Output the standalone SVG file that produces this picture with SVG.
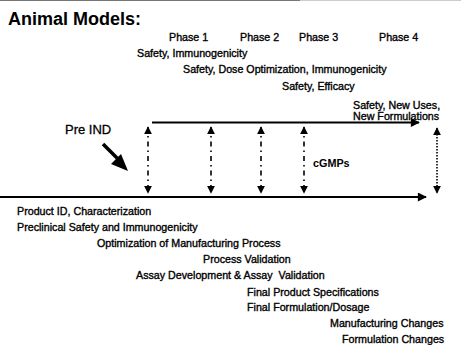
<svg xmlns="http://www.w3.org/2000/svg" width="461" height="345" viewBox="0 0 461 345">
<style>
text{font-family:"Liberation Sans",Arial,sans-serif;fill:#000}
.t{font-size:10.7px;stroke:#000;stroke-width:0.35}
.title{font-size:18px;font-weight:bold}
.pre{font-size:13px;stroke:#000;stroke-width:0.3}
.b{font-size:10.8px;font-weight:bold}
.line{stroke:#000;stroke-width:2;fill:none}
.dd{stroke:#000;stroke-width:1.6;fill:none;stroke-dasharray:5 4 1.5 4}
.dot{stroke:#000;stroke-width:1.6;fill:none;stroke-dasharray:1.5 1.5}
</style>
<defs>
<marker id="ah" viewBox="0 0 10 10" refX="9" refY="5" markerWidth="5" markerHeight="4.5" markerUnits="strokeWidth" orient="auto-start-reverse">
<path d="M0,0 L10,5 L0,10 z" fill="#000"/>
</marker>
<marker id="ahs" viewBox="0 0 10 10" refX="9" refY="5" markerWidth="5" markerHeight="5.2" markerUnits="strokeWidth" orient="auto-start-reverse">
<path d="M0,0 L10,5 L0,10 z" fill="#000"/>
</marker>
</defs>
<rect width="461" height="345" fill="#fff"/>
<line x1="0" y1="0.5" x2="300" y2="0.5" stroke="#777" stroke-width="1"/>
<line x1="300" y1="0.5" x2="461" y2="0.5" stroke="#ccc" stroke-width="1"/>

<g id="title"><text class="title" x="8" y="25">Animal Models:</text></g>
<g id="phase1"><text class="t" x="169" y="41">Phase 1</text></g>
<g id="phase2"><text class="t" x="240" y="41">Phase 2</text></g>
<g id="phase3"><text class="t" x="299" y="41">Phase 3</text></g>
<g id="phase4"><text class="t" x="379" y="41">Phase 4</text></g>
<g id="p1-desc"><text class="t" x="137" y="57">Safety, Immunogenicity</text></g>
<g id="p2-desc"><text class="t" x="183" y="73">Safety, Dose Optimization, Immunogenicity</text></g>
<g id="p3-desc"><text class="t" x="282" y="90">Safety, Efficacy</text></g>
<g id="p4-desc"><text class="t" x="353" y="109">Safety, New Uses,</text><text class="t" x="353" y="120">New Formulations</text></g>
<g id="pre-ind"><text class="pre" x="65" y="134">Pre IND</text></g>
<g id="cgmps"><text class="b" x="313" y="167">cGMPs</text></g>

<g id="activities">
<text class="t" x="17" y="215">Product ID, Characterization</text>
<text class="t" x="17" y="231">Preclinical Safety and Immunogenicity</text>
<text class="t" x="97" y="247">Optimization of Manufacturing Process</text>
<text class="t" x="203" y="263">Process Validation</text>
<text class="t" x="136" y="279" xml:space="preserve">Assay Development &amp; Assay  Validation</text>
<text class="t" x="247" y="296">Final Product Specifications</text>
<text class="t" x="247" y="311">Final Formulation/Dosage</text>
<text class="t" x="330" y="327">Manufacturing Changes</text>
<text class="t" x="342" y="343">Formulation Changes</text>
</g>

<g id="connectors">
<line class="line" x1="152" y1="122.5" x2="419" y2="122.5" marker-end="url(#ah)"/>
<line class="line" x1="0" y1="197" x2="426" y2="197" marker-end="url(#ah)"/>
<line class="dd" x1="148" y1="127" x2="148" y2="193" marker-start="url(#ahs)" marker-end="url(#ahs)"/>
<line class="dd" x1="211" y1="127" x2="211" y2="193" marker-start="url(#ahs)" marker-end="url(#ahs)"/>
<line class="dd" x1="261" y1="127" x2="261" y2="193" marker-start="url(#ahs)" marker-end="url(#ahs)"/>
<line class="dd" x1="304" y1="127" x2="304" y2="193" marker-start="url(#ahs)" marker-end="url(#ahs)"/>
<line class="dot" x1="437" y1="128" x2="437" y2="193" marker-start="url(#ahs)" marker-end="url(#ahs)"/>
<line stroke="#000" stroke-width="3.6" x1="103" y1="144" x2="120" y2="161"/>
<path d="M128,171 L111,164 L121,154 z" fill="#000"/>
</g>
</svg>
